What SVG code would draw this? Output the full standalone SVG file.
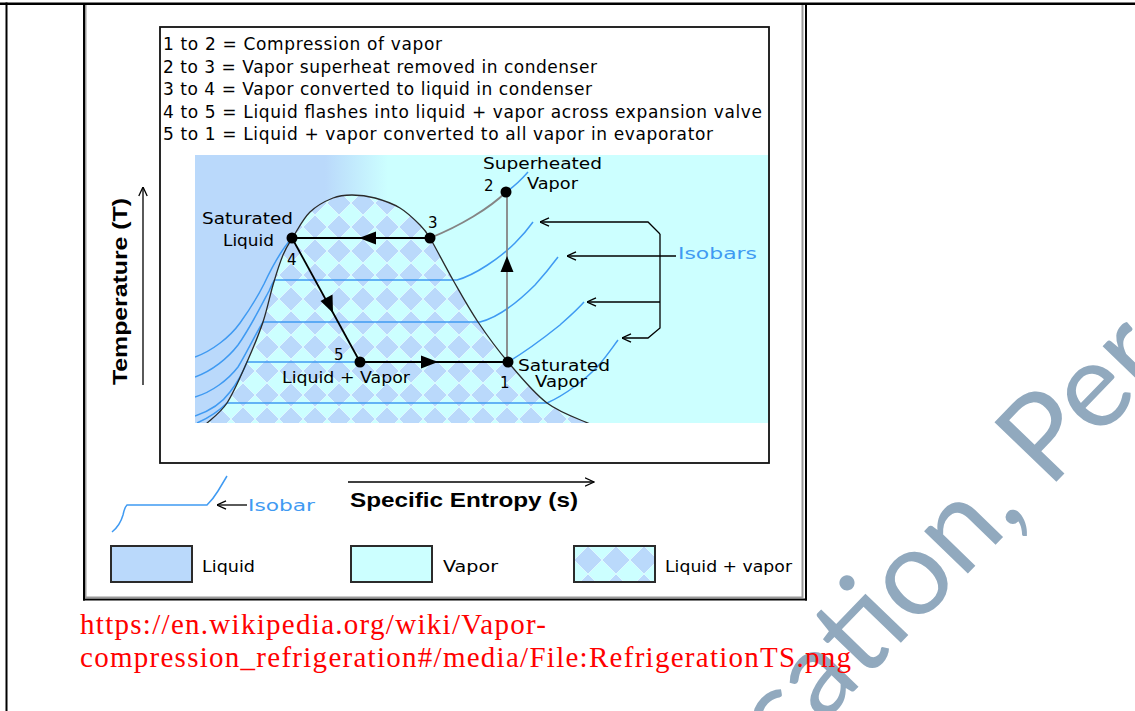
<svg xmlns="http://www.w3.org/2000/svg" width="1135" height="711" viewBox="0 0 1135 711">
<style>
  .t{font-family:"DejaVu Sans","Liberation Sans",sans-serif;font-size:15px;fill:#000}
  .hd{font-size:17px}
  .blue{fill:#3f9af2}
  .bold{font-family:"Liberation Sans",Arial,sans-serif;font-weight:bold;font-size:21px;fill:#000}
  .url{font-family:"Liberation Serif","Times New Roman",serif;font-size:29px;fill:#ff0000}
  .iso{fill:none;stroke:#3f9af2;stroke-width:1.5}
  .ptr{fill:none;stroke:#000;stroke-width:1.3}
  .cyc{fill:none;stroke:#000;stroke-width:1.8}
  .grey{fill:none;stroke:#858585;stroke-width:1.8}
  .head{fill:#000}
  .pt{fill:#000}
  .swatch{stroke:#2b2b2b;stroke-width:2}
</style>
<defs>
  <linearGradient id="fluid" gradientUnits="userSpaceOnUse" x1="325" y1="0" x2="388" y2="0">
    <stop offset="0" stop-color="#bad9fb"/>
    <stop offset="1" stop-color="#ccffff"/>
  </linearGradient>
  <pattern id="mix" width="24" height="24" patternUnits="userSpaceOnUse" x="195" y="155">
    <rect width="24" height="24" fill="#bad9fb"/>
    <path d="M12,0 L24,12 L12,24 L0,12 Z" fill="#ccffff" stroke="#e4fbff" stroke-width="0.8"/>
  </pattern>
  <pattern id="mixKey" width="28" height="28" patternUnits="userSpaceOnUse" x="574" y="546">
    <rect width="28" height="28" fill="#ccffff"/>
    <path d="M14,0 L28,14 L14,28 L0,14 Z" fill="#bad9fb" stroke="#e4fbff" stroke-width="0.8"/>
  </pattern>
  <clipPath id="plotClip"><rect x="195" y="155" width="573" height="268"/></clipPath>
  <marker id="open" viewBox="0 0 10 10" refX="9.5" refY="5" markerWidth="10" markerHeight="10" markerUnits="userSpaceOnUse" orient="auto">
    <path d="M0.5,0.8 L9.5,5 L0.5,9.2" fill="none" stroke="#000" stroke-width="1.3"/>
  </marker>
</defs>

<rect width="1135" height="711" fill="#fff"/>

<!-- watermark -->
<text transform="translate(1032,507) rotate(-46)" x="-359" y="0" font-family="Lato,'Open Sans',sans-serif" font-size="120" fill="#91a9be">cation, Pera</text>

<!-- page table rules and picture frame -->
<g id="frame">
  <rect x="0" y="2.5" width="1135" height="2.5" fill="#000"/>
  <rect x="5.5" y="2.5" width="2" height="708.5" fill="#000"/>
  <rect x="85" y="5" width="1.5" height="593" fill="#9a9a9a"/>
  <rect x="83" y="5" width="2" height="595.5" fill="#000"/>
  <rect x="801.5" y="5" width="2" height="593" fill="#9a9a9a"/>
  <rect x="805" y="5" width="2" height="595.5" fill="#000"/>
  <rect x="85" y="596.5" width="718" height="1.5" fill="#9a9a9a"/>
  <rect x="83" y="598.5" width="724" height="2" fill="#000"/>
  <rect x="160" y="27" width="609" height="436" fill="none" stroke="#111" stroke-width="1.8"/>
</g>

<!-- process legend -->
<g id="process-key" class="t hd">
  <text x="163" y="50" textLength="279">1 to 2 = Compression of vapor</text>
  <text x="163" y="72.5" textLength="434">2 to 3 = Vapor superheat removed in condenser</text>
  <text x="163" y="95" textLength="429">3 to 4 = Vapor converted to liquid in condenser</text>
  <text x="163" y="117.5" textLength="599">4 to 5 = Liquid flashes into liquid + vapor across expansion valve</text>
  <text x="163" y="140" textLength="550">5 to 1 = Liquid + vapor converted to all vapor in evaporator</text>
</g>

<!-- T-s plot regions -->
<g id="plot" clip-path="url(#plotClip)">
  <rect x="195" y="155" width="573" height="268" fill="url(#fluid)"/>
  <path id="dome-fill" fill="url(#mix)" d="M206,424 C209.5,420.5 220.2,413.3 227,403 C233.8,392.7 241,375.5 247,362 C253,348.5 258.7,334.8 263,322 C267.3,309.2 269.7,296.2 273,285 C276.3,273.8 279.7,263 283,255 C286.3,247 288.5,244.2 293,237 C297.5,229.8 303.3,218.5 310,212 C316.7,205.5 326,200.8 333,198 C340,195.2 345,195 352,195 C359,195 367,195.8 375,198 C383,200.2 392.5,203.5 400,208 C407.5,212.5 415,220 420,225 C425,230 427,233 430,238 C435.5,247.2 445,266 453,280 C461,294 468.8,308.3 478,322 C487.2,335.7 496.5,348.5 508,362 C519.5,375.5 533.3,392.7 547,403 C560.7,413.3 582.8,420.5 590,424 Z"/>

  <!-- isobars -->
  <g id="isobars" class="iso">
    <path d="M195,357 C212,351 230,337 240,323 C250,309 257,298 264,284 C272,267 281,250 292,238 L430,238"/>
    <path d="M506,192 C512,188 521,180 528,172"/>
    <path d="M195,377 C212,371 228,358 238,345 C250,328 260,308 269,291 C271,287 272,284 274.5,280 L457,280 C475,275 500,258 515,243 C522,236 528,229 533,222"/>
    <path d="M195,397 C212,392 228,380 238,367 C246,354 254,337 263,322 L480,322 C500,317 520,300 535,285 C545,274 552,265 558,257"/>
    <path d="M195,416 C210,411 222,403 230,392 C237,383 243,372 247,362 L508,362 C525,352 545,337 560,325 C570,316 578,309 584,302"/>
    <path d="M197,423 C206,419 217,413 227,403 L547,403 C565,395 585,380 598,366 C606,357 612,348 618,340"/>
  </g>

  <path id="dome" fill="none" stroke="#2a2a2a" stroke-width="1.3" d="M206,424 C209.5,420.5 220.2,413.3 227,403 C233.8,392.7 241,375.5 247,362 C253,348.5 258.7,334.8 263,322 C267.3,309.2 269.7,296.2 273,285 C276.3,273.8 279.7,263 283,255 C286.3,247 288.5,244.2 293,237 C297.5,229.8 303.3,218.5 310,212 C316.7,205.5 326,200.8 333,198 C340,195.2 345,195 352,195 C359,195 367,195.8 375,198 C383,200.2 392.5,203.5 400,208 C407.5,212.5 415,220 420,225 C425,230 427,233 430,238 C435.5,247.2 445,266 453,280 C461,294 468.8,308.3 478,322 C487.2,335.7 496.5,348.5 508,362 C519.5,375.5 533.3,392.7 547,403 C560.7,413.3 582.8,420.5 590,424"/>
</g>

<!-- refrigeration cycle connectors -->
<g id="connectors">
  <path class="grey" d="M507,362 L507,192" stroke-width="1.5"/>
  <path class="grey" d="M506,192 C490,208 460,226 430,238" stroke-width="2"/>
  <path class="cyc" d="M430,238 L292,238"/>
  <path class="cyc" d="M292,238 L360,362" stroke-width="1.5"/>
  <path class="cyc" d="M360,362 L508,362"/>
  <polygon class="head" points="507,256 500.5,272 513.5,272"/>
  <polygon class="head" points="359,238 376,231.5 376,244.5"/>
  <polygon class="head" points="333,313 320.5,301 332.5,294.5"/>
  <polygon class="head" points="438,362 421,355.5 421,368.5"/>

  <!-- isobar pointers -->
  <path class="ptr" d="M660,234 L648,222 L540,222" marker-end="url(#open)"/>
  <path class="ptr" d="M660,234 L660,328 L648,338 L622,338" marker-end="url(#open)"/>
  <path class="ptr" d="M676,256 L567,256" marker-end="url(#open)"/>
  <path class="ptr" d="M660,302 L587,302" marker-end="url(#open)"/>

  <!-- axes -->
  <path class="ptr" d="M143,385 L143,187" marker-end="url(#open)"/>
  <path class="ptr" d="M348,482 L594,482" marker-end="url(#open)"/>
</g>

<!-- state points -->
<g id="state-1"><circle class="pt" cx="508" cy="362" r="5.5"/><text class="t" x="500" y="388">1</text>
  <text class="t" x="518" y="371" textLength="92" lengthAdjust="spacingAndGlyphs">Saturated</text><text class="t" x="535" y="387" textLength="52" lengthAdjust="spacingAndGlyphs">Vapor</text></g>
<g id="state-2"><circle class="pt" cx="506" cy="192" r="5.5"/><text class="t" x="484" y="191">2</text>
  <text class="t" x="483" y="169" textLength="119" lengthAdjust="spacingAndGlyphs">Superheated</text><text class="t" x="527" y="189" textLength="51" lengthAdjust="spacingAndGlyphs">Vapor</text></g>
<g id="state-3"><circle class="pt" cx="430" cy="238" r="5.5"/><text class="t" x="428" y="228">3</text></g>
<g id="state-4"><circle class="pt" cx="292" cy="238" r="5.5"/><text class="t" x="287" y="265">4</text>
  <text class="t" x="202" y="224" textLength="91" lengthAdjust="spacingAndGlyphs">Saturated</text><text class="t" x="223" y="246" textLength="51" lengthAdjust="spacingAndGlyphs">Liquid</text></g>
<g id="state-5"><circle class="pt" cx="360" cy="362" r="5.5"/><text class="t" x="334" y="360">5</text>
  <text class="t" x="282" y="383" textLength="128" lengthAdjust="spacingAndGlyphs">Liquid + Vapor</text></g>

<g id="isobars-label"><text class="t blue" x="678" y="259" textLength="79" lengthAdjust="spacingAndGlyphs">Isobars</text></g>

<!-- axis titles -->
<g id="axis-T"><text class="bold" transform="translate(127,385) rotate(-90)" textLength="187" lengthAdjust="spacingAndGlyphs">Temperature (T)</text></g>
<g id="axis-s"><text class="bold" x="350" y="507" textLength="228" lengthAdjust="spacingAndGlyphs">Specific Entropy (s)</text></g>

<!-- key -->
<g id="key-isobar">
  <path class="iso" d="M112,532 C117,528 121,522 123,515 C124,510 125,507 127,505 L207,505 C211,501 215,496 218,491 C221,486 224,481 227,476"/>
  <path class="ptr" d="M247,505 L217,505" marker-end="url(#open)"/>
  <text class="t blue" x="248" y="511" textLength="67" lengthAdjust="spacingAndGlyphs">Isobar</text>
</g>
<g id="key-liquid"><rect class="swatch" x="111" y="546" width="81" height="36" fill="#bad9fb"/><text class="t" x="202" y="572" textLength="53" lengthAdjust="spacingAndGlyphs">Liquid</text></g>
<g id="key-vapor"><rect class="swatch" x="351" y="546" width="81" height="36" fill="#ccffff"/><text class="t" x="443" y="572" textLength="55" lengthAdjust="spacingAndGlyphs">Vapor</text></g>
<g id="key-mix"><rect class="swatch" x="574" y="546" width="81" height="36" fill="url(#mixKey)"/><text class="t" x="665" y="572" textLength="127" lengthAdjust="spacingAndGlyphs">Liquid + vapor</text></g>

<!-- source -->
<g id="source">
  <text class="url" x="80" y="634" textLength="466">https://en.wikipedia.org/wiki/Vapor-</text>
  <text class="url" x="80" y="667" textLength="771">compression_refrigeration#/media/File:RefrigerationTS.png</text>
</g>
</svg>
